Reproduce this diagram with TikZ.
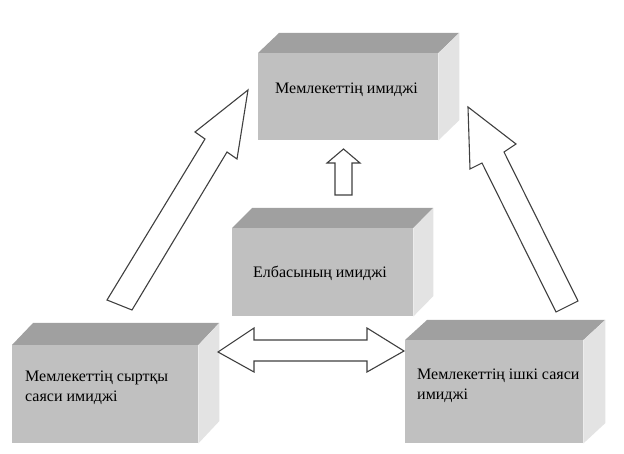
\documentclass[tikz,border=0pt]{standalone}
\usepackage{fontspec}
\setmainfont{Liberation Serif}
\definecolor{frontc}{HTML}{C0C0C0}
\definecolor{topc}{HTML}{A0A0A0}
\definecolor{sidec}{HTML}{E3E3E3}
\definecolor{linec}{HTML}{404040}
\tikzset{
  frontbox/.style={rectangle, fill=frontc, draw=none, inner sep=0pt, anchor=north west},
  lbl/.style={font=\fontsize{16}{20}\selectfont, align=left, anchor=west, inner sep=0pt, text=black},
  blockarrow/.style={draw=linec, fill=white, line width=1.1pt, line join=miter},
}
% #1 name, #2 x, #3 y, #4 width, #5 height, #6 dx, #7 dy
\newcommand{\cuboid}[7]{%
  \node[frontbox, minimum width=#4pt, minimum height=#5pt] (#1) at (#2,#3) {};
  \fill[topc] (#1.north west) -- ++(#6,-#7) -- ++(#4,0) -- (#1.north east) -- cycle;
  \fill[sidec] (#1.north east) -- ++(#6,-#7) -- ++(0,#5) -- (#1.south east) -- cycle;
}
\begin{document}
\begin{tikzpicture}[x=1pt,y=-1pt]
\useasboundingbox (0,0) rectangle (624,454);
\fill[white] (0,0) rectangle (624,454);

\cuboid{top}{258}{53}{180}{87}{21}{20}
\cuboid{mid}{232}{228}{181}{88}{20}{20}
\cuboid{left}{12}{345}{186}{98}{21}{22}
\cuboid{right}{405}{340}{178}{103}{22}{20}

\node[lbl] (ttop) at (275,90) {Мемлекеттің имиджі};
\node[lbl] (tmid) at (253,273) {Елбасының имиджі};
\node[lbl] (tleft) at (25,388) {Мемлекеттің сыртқы\\саяси имиджі};
\node[lbl] (tright) at (417,386) {Мемлекеттің ішкі саяси\\имиджі};

% left big arrow
\draw[blockarrow] (248,90) -- (237,159) -- (227,152) -- (132,310) -- (107,300) -- (205,139) -- (195,132) -- cycle;
% right big arrow
\draw[blockarrow] (468,107) -- (470,169) -- (482,163) -- (556,312) -- (578,301) -- (504,152) -- (516,144) -- cycle;
% small up arrow
\draw[blockarrow] (343.5,149) -- (360,163) -- (352,163) -- (352,195) -- (335,195) -- (335,163) -- (327,163) -- cycle;
% double arrow
\draw[blockarrow] (218,352) -- (254,328) -- (254,340) -- (367,340) -- (367,328) -- (404,351) -- (367,372) -- (367,361) -- (254,361) -- (254,372) -- cycle;
\end{tikzpicture}
\end{document}
